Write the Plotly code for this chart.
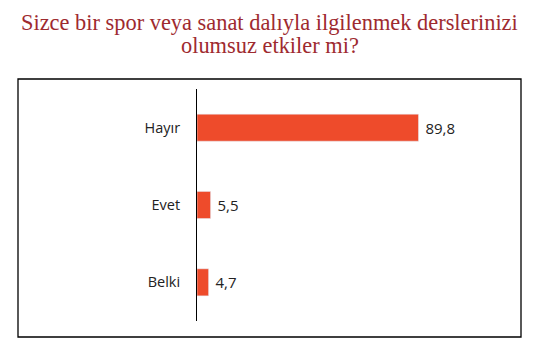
import plotly.graph_objects as go

categories = ["Hayır", "Evet", "Belki"]
values = [89.8, 5.5, 4.7]
title_lines = ["Sizce bir spor veya sanat dalıyla ilgilenmek derslerinizi",
               "olumsuz etkiler mi?"]

# the page adds an 8px body margin, so the figure is drawn 8px smaller
W, H = 520, 342
L, R, T, B = 189, 35, 81, 29
pw, ph = W - L - R, H - T - B

def px_x(x):
    return (x - L) / pw

def px_y(y):
    return (H - B - y) / ph

fig = go.Figure(go.Bar(
    y=categories, x=values, orientation="h",
    marker=dict(color="#EE4B2B"),
    width=0.35,
    texttemplate=" %{x:.1f}", textposition="outside",
    textfont=dict(family="Open Sans", size=15, color="#222222"),
    cliponaxis=False,
))

title_font = dict(family="Liberation Serif", size=22.4, color="#9E2A2F")
annotations = [
    dict(text=title_lines[0], xref="paper", yref="paper",
         x=px_x(261.5), y=px_y(14.5), xanchor="center", yanchor="middle",
         showarrow=False, font=title_font),
    dict(text=title_lines[1], xref="paper", yref="paper",
         x=px_x(261.5), y=px_y(37.5), xanchor="center", yanchor="middle",
         showarrow=False, font=title_font),
]

fig.update_layout(
    width=W, height=H,
    margin=dict(l=L, r=R, t=T, b=B),
    paper_bgcolor="white", plot_bgcolor="white",
    separators=",.",
    showlegend=False,
    xaxis=dict(range=[0, 120], visible=False),
    yaxis=dict(
        categoryorder="array", categoryarray=categories[::-1],
        showline=True, linecolor="black", linewidth=1,
        showgrid=False, ticks="", ticklabelstandoff=13,
        tickfont=dict(family="Open Sans", size=14.5, color="#222222"),
    ),
    annotations=annotations,
    shapes=[dict(
        type="rect", xref="paper", yref="paper",
        x0=px_x(10), x1=px_x(513), y0=px_y(329), y1=px_y(71),
        line=dict(color="black", width=1.3), fillcolor="rgba(0,0,0,0)", layer="below",
    )],
)

fig.write_html("out.html")
